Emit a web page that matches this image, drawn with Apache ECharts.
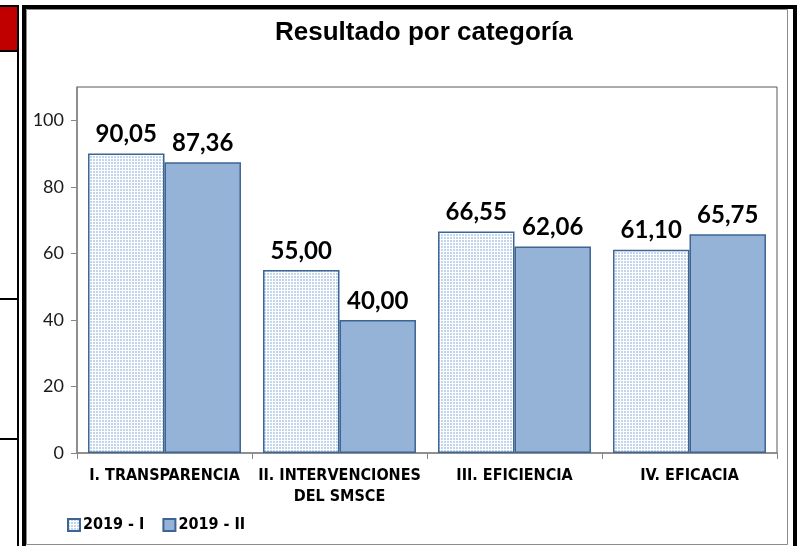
<!DOCTYPE html>
<html>
<head>
<meta charset="utf-8">
<script src="https://cdn.jsdelivr.net/npm/echarts@6/dist/echarts.min.js"></script>
<style>
  html, body { margin: 0; padding: 0; background: #ffffff; }
  #chart { width: 802px; height: 546px; }
</style>
</head>
<body>
<div id="chart"></div>
<script>
// Category names and the two period series
const categories = ['I. TRANSPARENCIA', 'II. INTERVENCIONES\nDEL SMSCE', 'III. EFICIENCIA', 'IV. EFICACIA'];
const seriesNames = ['2019 - I', '2019 - II'];
const values2019I = [90.05, 55.00, 66.55, 61.10];
const values2019II = [87.36, 40.00, 62.06, 65.75];
const yTicks = [0, 20, 40, 60, 80, 100];

// Small dotted tile used as the fill of the first period
function dotPattern() {
  const c = document.createElement('canvas');
  c.width = 3; c.height = 3;
  const ctx = c.getContext('2d');
  ctx.fillStyle = '#ffffff';
  ctx.fillRect(0, 0, 3, 3);
  ctx.fillStyle = '#c2d5ee';
  ctx.fillRect(0, 0, 2, 2);
  return c;
}

const fmt = v => v.toFixed(2).replace('.', ',');
const barBorder = '#3d6594';
const narrow = '"Liberation Sans Narrow", "Arial Narrow", "DejaVu Sans Condensed", sans-serif';

const chart = echarts.init(document.getElementById('chart'), null, { renderer: 'canvas' });

const labelStyle = {
  show: true,
  position: 'top',
  distance: 7,
  fontFamily: 'Lato, "Noto Sans", sans-serif',
  fontWeight: 'bold',
  fontSize: 24,
  color: '#000000',
  formatter: p => fmt(p.value)
};

chart.setOption({
  animation: false,
  backgroundColor: '#ffffff',
  title: {
    text: 'Resultado por categoría',
    left: 270,
    top: 15,
    textStyle: {
      fontFamily: '"Liberation Sans", Arial, sans-serif',
      fontWeight: 'bold',
      fontSize: 26,
      color: '#000000'
    }
  },
  legend: {
    left: 62,
    top: 512,
    itemWidth: 12,
    itemHeight: 12,
    itemGap: 18,
    icon: 'rect',
    textStyle: {
      fontFamily: narrow,
      fontWeight: 'bold',
      fontSize: 16,
      color: '#000000',
      padding: [0, 0, 0, -2]
    },
    data: seriesNames
  },
  grid: {
    left: 77,
    right: 25,
    top: 87,
    bottom: 93,
    show: true,
    borderColor: '#595959',
    borderWidth: 1,
    backgroundColor: 'transparent'
  },
  xAxis: {
    type: 'category',
    data: categories,
    axisLine: { lineStyle: { color: '#868686', width: 1.5 } },
    axisTick: { show: true, length: 6, lineStyle: { color: '#868686' } },
    axisLabel: {
      interval: 0,
      margin: 12,
      lineHeight: 21,
      fontFamily: narrow,
      fontWeight: 'bold',
      fontSize: 16,
      color: '#000000'
    }
  },
  yAxis: {
    type: 'value',
    min: 0,
    max: 110,
    interval: 20,
    splitLine: { show: false },
    axisLine: { show: true, lineStyle: { color: '#868686', width: 1.5 } },
    axisTick: { show: true, length: 6, customValues: yTicks, lineStyle: { color: '#868686' } },
    axisLabel: {
      customValues: yTicks,
      margin: 13,
      fontFamily: 'Lato, "Noto Sans", sans-serif',
      fontSize: 18,
      color: '#1a1a1a'
    }
  },
  series: [
    {
      name: seriesNames[0],
      type: 'bar',
      data: values2019I,
      barGap: '0%',
      barCategoryGap: '12.6%',
      itemStyle: {
        color: { image: dotPattern(), repeat: 'repeat' },
        borderColor: barBorder,
        borderWidth: 1.5
      },
      label: labelStyle
    },
    {
      name: seriesNames[1],
      type: 'bar',
      data: values2019II,
      barGap: '0%',
      barCategoryGap: '12.6%',
      itemStyle: {
        color: '#95b3d7',
        borderColor: barBorder,
        borderWidth: 1.5
      },
      label: labelStyle
    }
  ],
  graphic: [
    // neighbouring sheet cell edge on the left
    { type: 'rect', shape: { x: 0, y: 7, width: 17, height: 43 }, style: { fill: '#c00000' }, silent: true },
    { type: 'rect', shape: { x: 0, y: 5, width: 19, height: 2 }, style: { fill: '#000000' }, silent: true },
    { type: 'rect', shape: { x: 0, y: 50, width: 19, height: 2 }, style: { fill: '#000000' }, silent: true },
    { type: 'rect', shape: { x: 17, y: 5, width: 2, height: 541 }, style: { fill: '#000000' }, silent: true },
    { type: 'rect', shape: { x: 0, y: 298, width: 17, height: 2 }, style: { fill: '#000000' }, silent: true },
    { type: 'rect', shape: { x: 0, y: 438, width: 17, height: 2 }, style: { fill: '#000000' }, silent: true },
    // outer frame
    { type: 'rect', shape: { x: 22, y: 5, width: 4, height: 541 }, style: { fill: '#000000' }, silent: true },
    { type: 'rect', shape: { x: 22, y: 5, width: 775, height: 4 }, style: { fill: '#000000' }, silent: true },
    { type: 'rect', shape: { x: 793, y: 5, width: 4, height: 541 }, style: { fill: '#000000' }, silent: true },
    // chart area border
    { type: 'rect', shape: { x: 26.5, y: 9.5, width: 761, height: 535 }, style: { fill: 'none', stroke: '#8c8c8c', lineWidth: 1 }, silent: true, z: -1 }
  ]
});
</script>
</body>
</html>
